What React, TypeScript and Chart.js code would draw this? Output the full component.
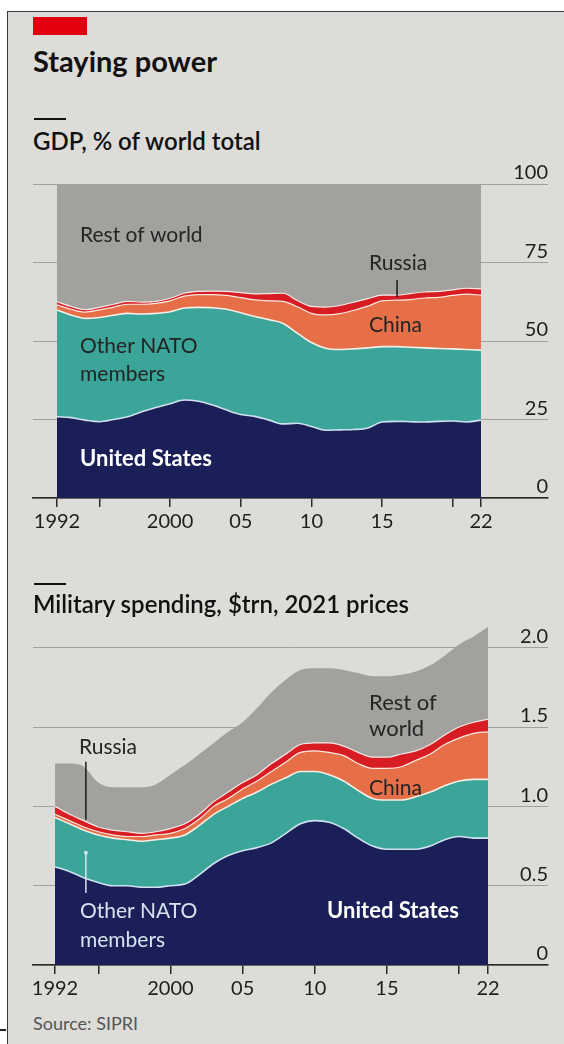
import React, { useEffect, useRef } from 'react';
import { Chart, registerables } from 'chart.js';

Chart.register(...registerables);

const FONT = "Lato, 'Noto Sans', sans-serif";

// ---------- data ----------
const YEARS = [
  1992, 1993, 1994, 1995, 1996, 1997, 1998, 1999, 2000, 2001, 2002, 2003, 2004, 2005, 2006, 2007,
  2008, 2009, 2010, 2011, 2012, 2013, 2014, 2015, 2016, 2017, 2018, 2019, 2020, 2021, 2022,
];

// GDP, % of world total
const GDP_US = [25.9, 25.6, 24.8, 24.3, 25.0, 25.9, 27.5, 28.8, 30.0, 31.2, 30.8, 29.6, 28.0, 26.6, 26.0, 24.8, 23.6, 23.8, 22.8, 21.6, 21.7, 21.8, 22.3, 24.2, 24.4, 24.3, 24.2, 24.4, 24.5, 24.2, 24.8];
const GDP_NATO = [34.0, 32.7, 32.4, 33.2, 33.2, 32.9, 31.1, 30.0, 29.3, 29.3, 29.9, 31.0, 32.1, 32.4, 31.8, 32.0, 32.0, 28.7, 26.7, 26.1, 25.6, 25.7, 25.5, 24.0, 23.8, 23.7, 23.6, 23.2, 23.0, 23.1, 22.3];
const GDP_CHINA = [1.6, 1.8, 2.0, 2.4, 2.6, 2.9, 3.1, 3.2, 3.5, 3.8, 4.1, 4.2, 4.4, 4.8, 5.3, 6.0, 7.0, 8.4, 9.3, 10.6, 11.4, 12.3, 13.3, 14.6, 14.8, 15.2, 15.9, 16.3, 17.0, 17.6, 17.5];
const GDP_RUSSIA = [1.0, 0.9, 0.8, 0.8, 0.9, 0.9, 0.7, 0.6, 0.8, 0.9, 1.0, 1.1, 1.3, 1.6, 1.9, 2.3, 2.6, 2.0, 2.2, 2.5, 2.6, 2.6, 2.4, 1.8, 1.6, 1.9, 1.9, 1.9, 1.8, 1.9, 2.0];
const GDP_REST = [37.5, 39.0, 40.0, 39.3, 38.3, 37.4, 37.6, 37.4, 36.4, 34.8, 34.2, 34.1, 34.2, 34.6, 35.0, 34.9, 34.8, 37.1, 39.0, 39.2, 38.7, 37.6, 36.5, 35.4, 35.4, 34.9, 34.4, 34.2, 33.7, 33.2, 33.4];

// Military spending, $trn, 2021 prices
const MIL_US = [0.62, 0.59, 0.55, 0.52, 0.50, 0.50, 0.49, 0.49, 0.50, 0.51, 0.57, 0.64, 0.69, 0.72, 0.74, 0.77, 0.83, 0.89, 0.91, 0.90, 0.86, 0.80, 0.75, 0.73, 0.73, 0.73, 0.75, 0.79, 0.81, 0.80, 0.80];
const MIL_NATO = [0.31, 0.30, 0.30, 0.30, 0.30, 0.29, 0.29, 0.30, 0.30, 0.31, 0.31, 0.31, 0.31, 0.33, 0.35, 0.37, 0.35, 0.33, 0.31, 0.30, 0.30, 0.30, 0.30, 0.31, 0.31, 0.33, 0.34, 0.34, 0.35, 0.37, 0.37];
const MIL_CHINA = [0.02, 0.02, 0.02, 0.02, 0.02, 0.02, 0.03, 0.03, 0.03, 0.04, 0.04, 0.05, 0.05, 0.06, 0.07, 0.08, 0.10, 0.12, 0.13, 0.14, 0.16, 0.17, 0.19, 0.20, 0.21, 0.23, 0.24, 0.26, 0.27, 0.29, 0.30];
const MIL_RUSSIA = [0.05, 0.04, 0.04, 0.03, 0.03, 0.03, 0.02, 0.02, 0.03, 0.03, 0.03, 0.03, 0.04, 0.04, 0.04, 0.05, 0.05, 0.05, 0.05, 0.06, 0.06, 0.07, 0.07, 0.07, 0.08, 0.06, 0.06, 0.06, 0.07, 0.07, 0.08];
const MIL_REST = [0.27, 0.32, 0.34, 0.28, 0.27, 0.28, 0.29, 0.30, 0.34, 0.37, 0.38, 0.37, 0.38, 0.38, 0.42, 0.45, 0.47, 0.47, 0.47, 0.47, 0.48, 0.50, 0.51, 0.51, 0.50, 0.50, 0.50, 0.50, 0.52, 0.54, 0.58];

const GDP_TICKS = [0, 25, 50, 75, 100];
const MIL_TICKS = [0, 0.5, 1.0, 1.5, 2.0];
const YEAR_TICKS = [1992, 1995, 2000, 2005, 2010, 2015, 2020, 2022];
const YEAR_TICK_LABELS = ['1992', '', '2000', '05', '10', '15', '', '22'];

// ---------- styles ----------
const C_US = '#1a1f57';
const C_NATO = '#3aa598';
const C_CHINA = '#e66f47';
const C_RUSSIA = '#d81c24';
const C_REST = '#a3a19e';
const BG = '#dddcd8';

type Ann = { text: string; year: number; value: number; color: string; weight: number; size: number };
type Leader = { year: number; from: number; to: number; color: string; dot?: boolean };

const DARK = '#242424';
const LIGHT = '#d6e4ef';

const GDP_LABELS: Ann[] = [
  { text: 'Rest of world', year: 1993.63, value: 81.5, color: DARK, weight: 400, size: 21 },
  { text: 'Russia', year: 2014.08, value: 72.6, color: DARK, weight: 400, size: 21 },
  { text: 'China', year: 2014.08, value: 52.9, color: DARK, weight: 400, size: 21 },
  { text: 'Other NATO', year: 1993.63, value: 46.2, color: DARK, weight: 400, size: 21 },
  { text: 'members', year: 1993.63, value: 37.3, color: DARK, weight: 400, size: 21 },
  { text: 'United States', year: 1993.63, value: 10.2, color: '#ffffff', weight: 700, size: 22 },
];
const GDP_LEADERS: Leader[] = [{ year: 2016.06, from: 69.4, to: 63.9, color: '#1a1a1a' }];

const MIL_LABELS: Ann[] = [
  { text: 'Rest of', year: 2013.76, value: 1.609, color: DARK, weight: 400, size: 22 },
  { text: 'world', year: 2013.76, value: 1.445, color: DARK, weight: 400, size: 22 },
  { text: 'Russia', year: 1993.66, value: 1.331, color: DARK, weight: 400, size: 21 },
  { text: 'China', year: 2013.76, value: 1.073, color: DARK, weight: 400, size: 21 },
  { text: 'Other NATO', year: 1993.73, value: 0.297, color: LIGHT, weight: 400, size: 21 },
  { text: 'members', year: 1993.73, value: 0.114, color: LIGHT, weight: 400, size: 21 },
  { text: 'United States', year: 2010.85, value: 0.297, color: '#ffffff', weight: 700, size: 22 },
];
const MIL_LEADERS: Leader[] = [
  { year: 1994.14, from: 1.281, to: 0.915, color: '#1a1a1a' },
  { year: 1994.14, from: 0.707, to: 0.454, color: LIGHT, dot: true },
];

type Series = { label: string; values: number[]; color: string; line: string; lineWidth: number };

function annotationPlugin(labels: Ann[], leaders: Leader[]) {
  return {
    id: 'annotations',
    afterDatasetsDraw(chart: any) {
      const { ctx, scales } = chart;
      const x = scales.x;
      const y = scales.y;
      ctx.save();
      for (const l of leaders) {
        const px = x.getPixelForValue(l.year);
        ctx.strokeStyle = l.color;
        ctx.lineWidth = 1.5;
        ctx.beginPath();
        ctx.moveTo(px, y.getPixelForValue(l.from));
        ctx.lineTo(px, y.getPixelForValue(l.to));
        ctx.stroke();
        if (l.dot) {
          ctx.fillStyle = l.color;
          ctx.beginPath();
          ctx.arc(px, y.getPixelForValue(l.from), 2, 0, Math.PI * 2);
          ctx.fill();
        }
      }
      for (const a of labels) {
        ctx.font = `${a.weight} ${a.size}px ${FONT}`;
        ctx.fillStyle = a.color;
        ctx.textAlign = 'left';
        ctx.textBaseline = 'alphabetic';
        ctx.fillText(a.text, x.getPixelForValue(a.year), y.getPixelForValue(a.value));
      }
      ctx.restore();
    },
  };
}

type ChartProps = {
  top: number;
  height: number;
  padTop: number;
  series: Series[];
  xMin: number;
  xMax: number;
  yMax: number;
  yTicks: number[];
  yFormat: (v: number) => string;
  labels: Ann[];
  leaders: Leader[];
};

function StackChart(p: ChartProps) {
  const ref = useRef<HTMLCanvasElement | null>(null);
  useEffect(() => {
    if (!ref.current) return;
    const datasets = p.series.map((s, i) => ({
      label: s.label,
      data: YEARS.map((yr, k) => ({ x: yr, y: s.values[k] })),
      backgroundColor: s.color,
      borderColor: s.line,
      borderWidth: s.lineWidth,
      fill: i === 0 ? 'origin' : '-1',
      pointRadius: 0,
      pointHoverRadius: 0,
      cubicInterpolationMode: 'monotone' as const,
    }));
    const chart = new Chart(ref.current, {
      type: 'line',
      data: { datasets: datasets as any },
      plugins: [annotationPlugin(p.labels, p.leaders)],
      options: {
        animation: false,
        responsive: false,
        devicePixelRatio: 1,
        events: [],
        layout: { padding: { left: 33, right: 16, top: p.padTop, bottom: 2 } },
        plugins: { legend: { display: false }, tooltip: { enabled: false } },
        scales: {
          x: {
            type: 'linear',
            min: p.xMin,
            max: p.xMax,
            afterBuildTicks: (s: any) => {
              s.ticks = YEAR_TICKS.map((v) => ({ value: v }));
            },
            afterFit: (s: any) => {
              s.height = 40;
            },
            ticks: {
              autoSkip: false,
              maxRotation: 0,
              padding: 3,
              color: '#1e1e1e',
              font: { family: FONT, size: 20 },
              callback: (v: any) => {
                const i = YEAR_TICKS.indexOf(Number(v));
                return i >= 0 ? YEAR_TICK_LABELS[i] : '';
              },
            },
            grid: { drawOnChartArea: false, drawTicks: true, tickLength: 9, color: '#2a2a2a', lineWidth: 1.5 },
            border: { display: true, color: '#2a2a2a', width: 1.5 },
          },
          y: {
            type: 'linear',
            position: 'right',
            stacked: true,
            min: 0,
            max: p.yMax,
            afterBuildTicks: (s: any) => {
              s.ticks = p.yTicks.map((v) => ({ value: v }));
            },
            afterFit: (s: any) => {
              s.width = 0;
            },
            ticks: {
              mirror: true,
              padding: 0,
              labelOffset: -11,
              color: '#1e1e1e',
              font: { family: FONT, size: 20 },
              callback: (v: any) => p.yFormat(Number(v)),
            },
            grid: { drawTicks: false, color: 'rgba(120,120,120,0.6)', lineWidth: 1 },
            border: { display: false },
          },
        },
      } as any,
    });
    return () => chart.destroy();
  }, []);
  return (
    <canvas
      ref={ref}
      width={564}
      height={p.height}
      style={{ position: 'absolute', left: 0, top: p.top, width: 564, height: p.height }}
    />
  );
}

const GDP_SERIES: Series[] = [
  { label: 'United States', values: GDP_US, color: C_US, line: '#cfe2f0', lineWidth: 1.6 },
  { label: 'Other NATO members', values: GDP_NATO, color: C_NATO, line: '#f4eee8', lineWidth: 1.6 },
  { label: 'China', values: GDP_CHINA, color: C_CHINA, line: '#f6e6de', lineWidth: 1.2 },
  { label: 'Russia', values: GDP_RUSSIA, color: C_RUSSIA, line: '#f2e9e5', lineWidth: 1.2 },
  { label: 'Rest of world', values: GDP_REST, color: C_REST, line: 'rgba(0,0,0,0)', lineWidth: 0 },
];
const MIL_SERIES: Series[] = [
  { label: 'United States', values: MIL_US, color: C_US, line: '#cfe2f0', lineWidth: 1.6 },
  { label: 'Other NATO members', values: MIL_NATO, color: C_NATO, line: '#f4eee8', lineWidth: 1.6 },
  { label: 'China', values: MIL_CHINA, color: C_CHINA, line: '#f6e6de', lineWidth: 1.2 },
  { label: 'Russia', values: MIL_RUSSIA, color: C_RUSSIA, line: '#f2e9e5', lineWidth: 1.2 },
  { label: 'Rest of world', values: MIL_REST, color: C_REST, line: 'rgba(0,0,0,0)', lineWidth: 0 },
];

const abs = (s: React.CSSProperties): React.CSSProperties => ({ position: 'absolute', ...s });

export default function App() {
  return (
    <div style={abs({ left: 0, top: 0, width: 564, height: 1044, background: '#ffffff', overflow: 'hidden', fontFamily: FONT })}>
      <div style={abs({ left: 7, top: 11, width: 557, height: 1033, background: BG, borderLeft: '1.5px solid #3a3a3a', borderTop: '1.5px solid #3a3a3a' })} />
      <div style={abs({ left: 0, top: 1029, width: 6, height: 2, background: '#222' })} />
      <div style={abs({ left: 33, top: 17, width: 54, height: 18, background: '#e3000f' })} />
      <div style={abs({ left: 33, top: 46, fontSize: 29, lineHeight: '29px', fontWeight: 700, color: '#111', whiteSpace: 'nowrap' })}>
        Staying power
      </div>
      <div style={abs({ left: 34, top: 118, width: 32, height: 2, background: '#111' })} />
      <div style={abs({ left: 33, top: 129, fontSize: 24, lineHeight: '24px', fontWeight: 600, color: '#111', whiteSpace: 'nowrap' })}>
        GDP, % of world total
      </div>
      <StackChart
        top={160}
        height={380}
        padTop={24}
        series={GDP_SERIES}
        xMin={1990.302}
        xMax={2026.741}
        yMax={100}
        yTicks={GDP_TICKS}
        yFormat={(v) => String(v)}
        labels={GDP_LABELS}
        leaders={GDP_LEADERS}
      />
      <div style={abs({ left: 34, top: 583, width: 32, height: 2, background: '#111' })} />
      <div style={abs({ left: 33, top: 592, fontSize: 24, lineHeight: '24px', fontWeight: 600, color: '#111', whiteSpace: 'nowrap', zIndex: 2 })}>
        Military spending, $trn, 2021 prices
      </div>
      <StackChart
        top={590}
        height={417}
        padTop={26}
        series={MIL_SERIES}
        xMin={1990.476}
        xMax={2026.157}
        yMax={2.2}
        yTicks={MIL_TICKS}
        yFormat={(v) => (v === 0 ? '0' : v.toFixed(1))}
        labels={MIL_LABELS}
        leaders={MIL_LEADERS}
      />
      <div style={abs({ left: 33, top: 1014, fontSize: 18, lineHeight: '18px', color: '#555', whiteSpace: 'nowrap' })}>
        Source: SIPRI
      </div>
    </div>
  );
}
